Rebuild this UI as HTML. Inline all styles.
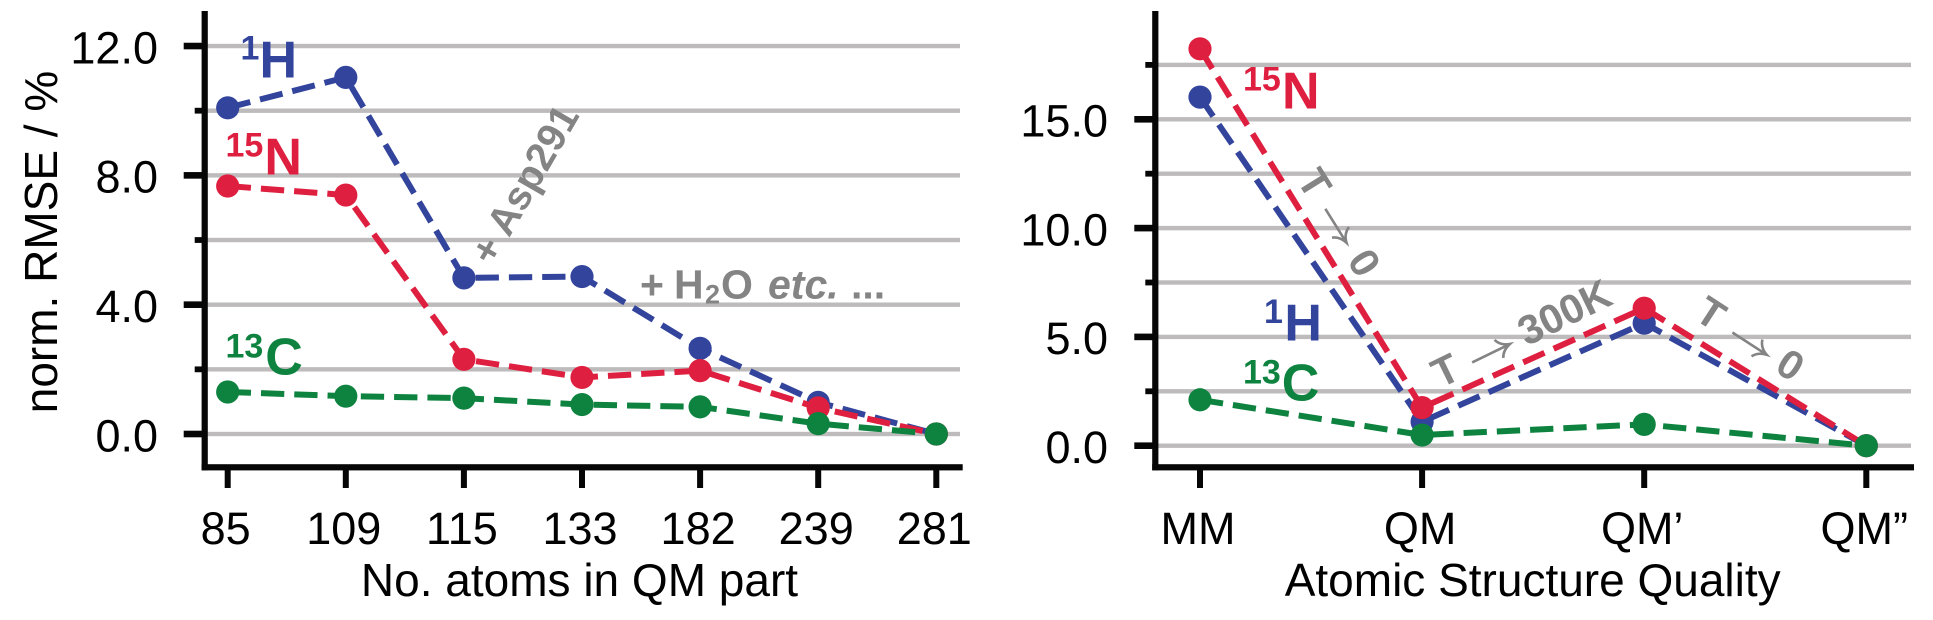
<!DOCTYPE html>
<html lang="en">
<head>
<meta charset="utf-8">
<title>Normalized RMSE charts</title>
<style>
html,body{margin:0;padding:0;background:#fff;width:1933px;height:620px;overflow:hidden}
svg{display:block}
text{font-family:"Liberation Sans",Arial,sans-serif}
.tick{font-size:45px;fill:#000}
.title{font-size:46px;fill:#000}
.ann{font-weight:bold;fill:#848484}
.big{font-weight:bold;font-size:52px}
.sup{font-weight:bold;font-size:34px}
.arrow{fill:none;stroke:#848484;stroke-width:2.6}
</style>
</head>
<body>
<svg id="figure" xmlns="http://www.w3.org/2000/svg" width="1933" height="620" viewBox="0 0 1933 620">
  <rect width="1933" height="620" fill="#fff"/>
  <g id="panelA"></g>
  <g id="panelB"></g>

  <text class="title" transform="translate(57,242) rotate(-90)" text-anchor="middle">norm. RMSE / %</text>
  <text class="title" x="579.5" y="596" text-anchor="middle">No. atoms in QM part</text>
  <text class="title" x="1532.7" y="596" text-anchor="middle">Atomic Structure Quality</text>

  <g fill="#32449c">
    <text class="sup" x="240.5" y="59.5">1</text><text class="big" x="259.5" y="77.3">H</text>
  </g>
  <g fill="#de1f3f">
    <text class="sup" x="225.5" y="156.7">15</text><text class="big" x="264.4" y="174.3">N</text>
  </g>
  <g fill="#0e8340">
    <text class="sup" x="225.5" y="357.7">13</text><text class="big" x="265.3" y="374.5">C</text>
  </g>
  <g fill="#de1f3f">
    <text class="sup" x="1243" y="90.7">15</text><text class="big" x="1282" y="108.3">N</text>
  </g>
  <g fill="#32449c">
    <text class="sup" x="1264" y="322.8">1</text><text class="big" x="1284.4" y="340.7">H</text>
  </g>
  <g fill="#0e8340">
    <text class="sup" x="1243" y="383.3">13</text><text class="big" x="1281.7" y="400.5">C</text>
  </g>

  <text class="ann" font-size="40" transform="translate(492.5,267) rotate(-60)">+ Asp291</text>
  <text class="ann" font-size="41" y="298.3"><tspan x="640">+</tspan><tspan x="674">H</tspan><tspan x="705" y="303.3" font-size="27">2</tspan><tspan x="721" y="298.3">O</tspan><tspan x="768" font-style="italic">etc.</tspan><tspan x="851">...</tspan></text>

  <g transform="translate(1296,180) rotate(58)">
    <text class="ann" font-size="41"><tspan x="0" y="0">T</tspan><tspan x="95" y="0">0</tspan></text>
    <path class="arrow" d="M40,-9.6 L80,-9.6 M68,-20 Q71,-12 80,-9.6 Q71,-7 68,0"/>
  </g>
  <g transform="translate(1440.4,388.6) rotate(-26)">
    <text class="ann" font-size="41"><tspan x="0" y="0">T</tspan><tspan x="96" y="0">300K</tspan></text>
    <path class="arrow" d="M40,-9.6 L82,-9.6 M70,-20 Q73,-12 82,-9.6 Q73,-7 70,0"/>
  </g>
  <g transform="translate(1692.8,318.2) rotate(33)">
    <text class="ann" font-size="41"><tspan x="0" y="0">T</tspan><tspan x="96" y="0">0</tspan></text>
    <path class="arrow" d="M41,-9.6 L82,-9.6 M70,-20 Q73,-12 82,-9.6 Q73,-7 70,0"/>
  </g>
</svg>
<script>
// Left chart data
const atomCounts = ['85', '109', '115', '133', '182', '239', '281'];
const protonByAtoms = [10.09, 11.03, 4.83, 4.87, 2.65, 0.98, 0];
const nitrogenByAtoms = [7.67, 7.39, 2.31, 1.75, 1.96, 0.81, 0];
const carbonByAtoms = [1.30, 1.17, 1.11, 0.91, 0.84, 0.32, 0];
const leftMajorTicks = [0, 4, 8, 12];
const leftMinorTicks = [2, 6, 10];

// Right chart data
const qualityLevels = ['MM', 'QM', 'QM\u2019', 'QM\u201d'];
const protonByQuality = [16.02, 1.10, 5.63, 0];
const nitrogenByQuality = [18.24, 1.75, 6.32, 0];
const carbonByQuality = [2.11, 0.49, 0.98, 0];
const rightMajorTicks = [0, 5, 10, 15];
const rightMinorTicks = [2.5, 7.5, 12.5, 17.5];

const SVGNS = 'http://www.w3.org/2000/svg';
const BLUE = '#32449c', RED = '#de1f3f', GREEN = '#0e8340', GRID = '#bdbbbb', INK = '#060606';

function make(parent, tag, attrs) {
  const el = document.createElementNS(SVGNS, tag);
  for (const k in attrs) el.setAttribute(k, attrs[k]);
  parent.appendChild(el);
  return el;
}

function drawPanel(root, cfg) {
  const x = cfg.x, y = cfg.y;
  cfg.major.concat(cfg.minor).forEach(function (v) {
    const line = make(root, 'rect', {x: cfg.spineX, y: y(v) - 2.2, width: cfg.gridEnd - cfg.spineX, height: 4.4, fill: GRID});
    
    
  });
  cfg.major.forEach(function (v) {
    const t = make(root, 'rect', {x: cfg.spineX - 21, y: y(v) - 3.3, width: 21, height: 6.6, fill: INK});
    
    
    const lab = make(root, 'text', {x: cfg.labelX, y: y(v) + 17.3, 'text-anchor': 'end', 'class': 'tick'});
    
    
    lab.textContent = v.toFixed(1);
  });
  cfg.minor.forEach(function (v) {
    const t = make(root, 'rect', {x: cfg.spineX - 10, y: y(v) - 2.9, width: 10, height: 5.8, fill: INK});
    
    
  });
  cfg.categories.forEach(function (c, i) {
    const t = make(root, 'rect', {x: x(i) - 3, y: 470, width: 6, height: 18, fill: INK});
    
    
    const lab = make(root, 'text', {x: x(i) - cfg.labelShift, y: 544, 'text-anchor': 'middle', 'class': 'tick'});
    
    
    lab.textContent = c;
  });
  cfg.series.forEach(function (s) {
    const pts = s.values.map(function (v, i) { return x(i).toFixed(2) + ',' + y(v).toFixed(2); }).join(' ');
    const line = make(root, 'polyline', {points: pts, fill: 'none', stroke: s.color, 'stroke-width': 6, 'stroke-dasharray': '23.3 10'});
    
    
    s.values.forEach(function (v, i) {
      const p = make(root, 'circle', {cx: x(i), cy: y(v), r: 11.6, fill: s.color});
      
      
    });
  });
  const spineY = make(root, 'rect', {x: cfg.spineX - 3.1, y: 11, width: 6.2, height: 459.3, fill: INK});
  
  
  const spineX = make(root, 'rect', {x: cfg.spineX - 3.1, y: 464.2, width: cfg.axisEnd - cfg.spineX + 3.1, height: 6.2, fill: INK});
  
  
}

function xLeft(i) { return 227.7 + 118.1 * i; }
function yLeft(v) { return 434 - 32.33 * v; }
function xRight(i) { return 1200 + 222.1 * i; }
function yRight(v) { return 445.7 - 21.76 * v; }

drawPanel(document.getElementById('panelA'), {
  x: xLeft, y: yLeft, spineX: 204.7, gridEnd: 960, axisEnd: 962.7, labelX: 158, labelShift: 2,
  categories: atomCounts, major: leftMajorTicks, minor: leftMinorTicks,
  series: [
    {color: BLUE, values: protonByAtoms},
    {color: RED, values: nitrogenByAtoms},
    {color: GREEN, values: carbonByAtoms}
  ]
});
drawPanel(document.getElementById('panelB'), {
  x: xRight, y: yRight, spineX: 1155.3, gridEnd: 1911, axisEnd: 1914, labelX: 1108, labelShift: 2,
  categories: qualityLevels, major: rightMajorTicks, minor: rightMinorTicks,
  series: [
    {color: BLUE, values: protonByQuality},
    {color: RED, values: nitrogenByQuality},
    {color: GREEN, values: carbonByQuality}
  ]
});
</script>
</body>
</html>
